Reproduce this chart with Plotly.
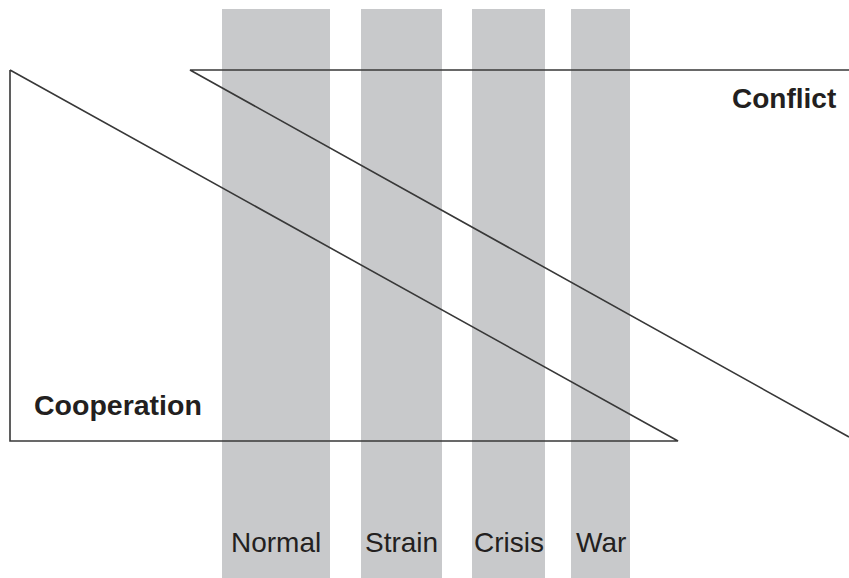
import plotly.graph_objects as go

# Stages of relations (bands) on a horizontal scale 0..849
stages = ["Normal", "Strain", "Crisis", "War"]
stage_left = [222, 361, 472, 571]
stage_right = [330, 442, 545, 630]
band_top = 569

# Cooperation triangle (x, y) with y measured upward
coop_x = [10, 10, 678, 10]
coop_y = [508, 137, 137, 508]

# Conflict triangle (open on the right edge)
conf_x = [849, 190, 849]
conf_y = [508, 508, 141]

label_coop = "Cooperation"
label_conf = "Conflict"

centers = [(l + r) / 2 for l, r in zip(stage_left, stage_right)]
widths = [r - l for l, r in zip(stage_left, stage_right)]

fig = go.Figure()
fig.add_trace(go.Bar(x=centers, y=[band_top] * len(stages), width=widths, base=0,
                     marker=dict(color="#c8c9cb", line=dict(width=0)),
                     hoverinfo="skip", showlegend=False))
line_col = "#383838"
fig.add_trace(go.Scatter(x=coop_x, y=coop_y, mode="lines",
                         line=dict(color=line_col, width=1.6), showlegend=False,
                         hoverinfo="skip"))
fig.add_trace(go.Scatter(x=conf_x, y=conf_y, mode="lines",
                         line=dict(color=line_col, width=1.6), showlegend=False,
                         hoverinfo="skip", cliponaxis=False))

font_family = "Liberation Sans, Arial, Helvetica, sans-serif"
txt_col = "#231f20"
for name, c in zip(stages, centers):
    fig.add_annotation(x=c, y=36, text=name, showarrow=False, xanchor="center",
                       yanchor="middle", font=dict(family=font_family, size=28, color=txt_col))
fig.add_annotation(x=838, y=480, text="<b>%s</b>" % label_conf, showarrow=False,
                   xanchor="right", yanchor="middle",
                   font=dict(family=font_family, size=28, color=txt_col))
fig.add_annotation(x=32, y=173, text="<b>%s</b>" % label_coop, showarrow=False,
                   xanchor="left", yanchor="middle",
                   font=dict(family=font_family, size=28.5, color=txt_col))

fig.update_layout(width=849, height=578, margin=dict(l=0, r=0, t=0, b=0),
                  paper_bgcolor="white", plot_bgcolor="white", bargap=0,
                  xaxis=dict(range=[0, 849], visible=False, fixedrange=True),
                  yaxis=dict(range=[0, 578], visible=False, fixedrange=True))
fig.write_html("out.html", config={"displayModeBar": False},
               post_script="document.body.style.margin='0';document.body.style.overflow='hidden';")
